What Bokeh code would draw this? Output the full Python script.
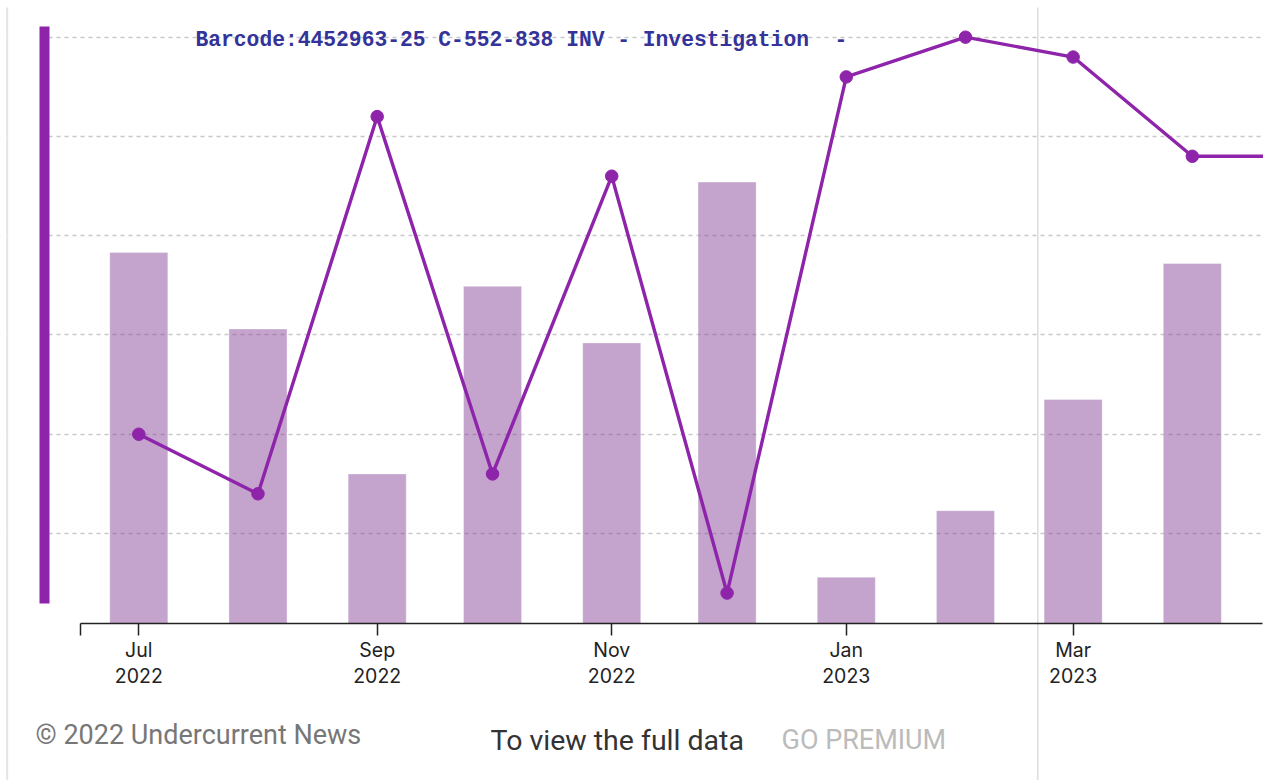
import pandas as pd
from bokeh.plotting import figure
from bokeh.models import Range1d, FixedTicker, Label, ColumnDataSource, BoxAnnotation
from bokeh.embed import file_html
from bokeh.resources import INLINE

# ---------------- data ----------------
bar_months = ["2022-07-01", "2022-08-01", "2022-09-01", "2022-10-01", "2022-11-01",
              "2022-12-01", "2023-01-01", "2023-02-01", "2023-03-01", "2023-04-01"]
bar_values = [38.3, 30.6, 16.0, 34.9, 29.2, 45.4, 5.6, 12.3, 23.5, 37.2]

line_months = bar_months + ["2023-05-01"]
line_values = [20, 14, 52, 16, 46, 4, 56, 60, 58, 48, 48]

tick_months = ["2022-07-01", "2022-09-01", "2022-11-01", "2023-01-01", "2023-03-01"]
tick_labels = ["Jul\n2022", "Sep\n2022", "Nov\n2022", "Jan\n2023", "Mar\n2023"]

grid_values = [10, 20, 30, 40, 50, 60]

watermark = "Barcode:4452963-25 C-552-838 INV - Investigation \u00a0-"
footer_left = "\u00a9 2022 Undercurrent News"
footer_mid = "To view the full data"
footer_right = "GO PREMIUM"

# ---------------- layout helpers (picture pixel -> data) ----------------
DAY = 86400000.0
def ms(s):
    return pd.Timestamp(s).value / 1e6

ORIGIN = ms("2022-07-01")
def img_x(px):
    return ORIGIN + (px - 138.3) / 3.845 * DAY

def img_y(py):
    return 60 - (py - 36.7) / 9.926

BASE = img_y(623)          # axis baseline
PURPLE = "#8e24aa"
W, H = 1263, 780

p = figure(width=W, height=H, output_backend="svg", toolbar_location=None,
           x_range=Range1d(img_x(0), img_x(W)),
           y_range=Range1d(img_y(H), img_y(0)),
           min_border_left=0, min_border_right=0, min_border_top=0,
           min_border_bottom=0)
p.outline_line_color = None
p.background_fill_color = "white"
p.border_fill_color = "white"

# grid
p.xgrid.visible = False
p.ygrid.ticker = FixedTicker(ticks=grid_values)
p.ygrid.grid_line_color = "#c8c8c8"
p.ygrid.grid_line_width = 1.5
p.ygrid.grid_line_dash = "4 4"
# mask grid left of the purple rule
p.add_layout(BoxAnnotation(right=img_x(40), fill_color="white", fill_alpha=1.0,
                           line_color=None, level="underlay"))

# page divider lines
p.segment(x0=[img_x(6.7), img_x(1037.3)], x1=[img_x(6.7), img_x(1037.3)],
          y0=[img_y(7), img_y(7)], y1=[img_y(H), img_y(H)],
          line_color=["#e1e4e8", "#dddddd"], line_width=[2, 1.5])

bars = ColumnDataSource(dict(x=[ms(m) for m in bar_months], top=bar_values))
p.vbar(x="x", top="top", bottom=BASE, width=15.1 * DAY, source=bars,
       fill_color=(137, 71, 155), fill_alpha=0.5,
       line_color="white", line_alpha=0.35, line_width=1)

line = ColumnDataSource(dict(x=[ms(m) for m in line_months], y=line_values))
p.line(x="x", y="y", source=line, line_color=PURPLE, line_width=3.4)
p.scatter(x="x", y="y", source=line, size=12.5, fill_color=PURPLE, line_color=PURPLE)

# y axis used as purple rule
p.yaxis.fixed_location = img_x(44)
p.yaxis.ticker = FixedTicker(ticks=[])
p.yaxis.axis_line_color = PURPLE
p.yaxis.axis_line_width = 10
p.yaxis.bounds = (img_y(603.3), img_y(26))
p.yaxis.major_tick_line_color = None
p.yaxis.minor_tick_line_color = None
p.yaxis.major_label_text_font_size = "0px"

# x axis
start_tick = img_x(80)
ticks = [start_tick] + [ms(m) for m in tick_months]
p.xaxis.fixed_location = BASE
p.xaxis.ticker = FixedTicker(ticks=ticks)
overrides = {start_tick: ""}
for m, lab in zip(tick_months, tick_labels):
    overrides[ms(m)] = lab
p.xaxis.major_label_overrides = overrides
p.xaxis.bounds = (start_tick, img_x(1262))
p.xaxis.axis_line_color = "#222222"
p.xaxis.axis_line_width = 1.5
p.xaxis.major_tick_line_color = "#222222"
p.xaxis.major_tick_line_width = 1.5
p.xaxis.major_tick_in = 0
p.xaxis.major_tick_out = 12
p.xaxis.minor_tick_line_color = None
p.xaxis.major_label_text_font = "Inter"
p.xaxis.major_label_text_font_size = "19.5px"
p.xaxis.major_label_text_color = "#222222"
p.xaxis.major_label_text_line_height = 1.1
p.xaxis.major_label_standoff = 2

# watermark text
p.add_layout(Label(x=img_x(195), y=img_y(39.7), text=watermark,
                   text_font="Liberation Mono", text_font_style="bold",
                   text_font_size="21.3px", text_color="#333399",
                   text_baseline="alphabetic", text_align="left"))

# footer
p.add_layout(Label(x=img_x(35), y=img_y(734), text=footer_left,
                   text_font="Roboto", text_font_size="27px",
                   text_color="#777777", text_baseline="middle"))
p.add_layout(Label(x=img_x(490), y=img_y(740), text=footer_mid,
                   text_font="Roboto", text_font_size="28.5px",
                   text_color="#333333", text_baseline="middle"))
p.add_layout(Label(x=img_x(781), y=img_y(739), text=footer_right,
                   text_font="Roboto", text_font_size="27px",
                   text_color="#bbbbbb", text_baseline="middle"))

open("out.html", "w").write(file_html(p, INLINE))
